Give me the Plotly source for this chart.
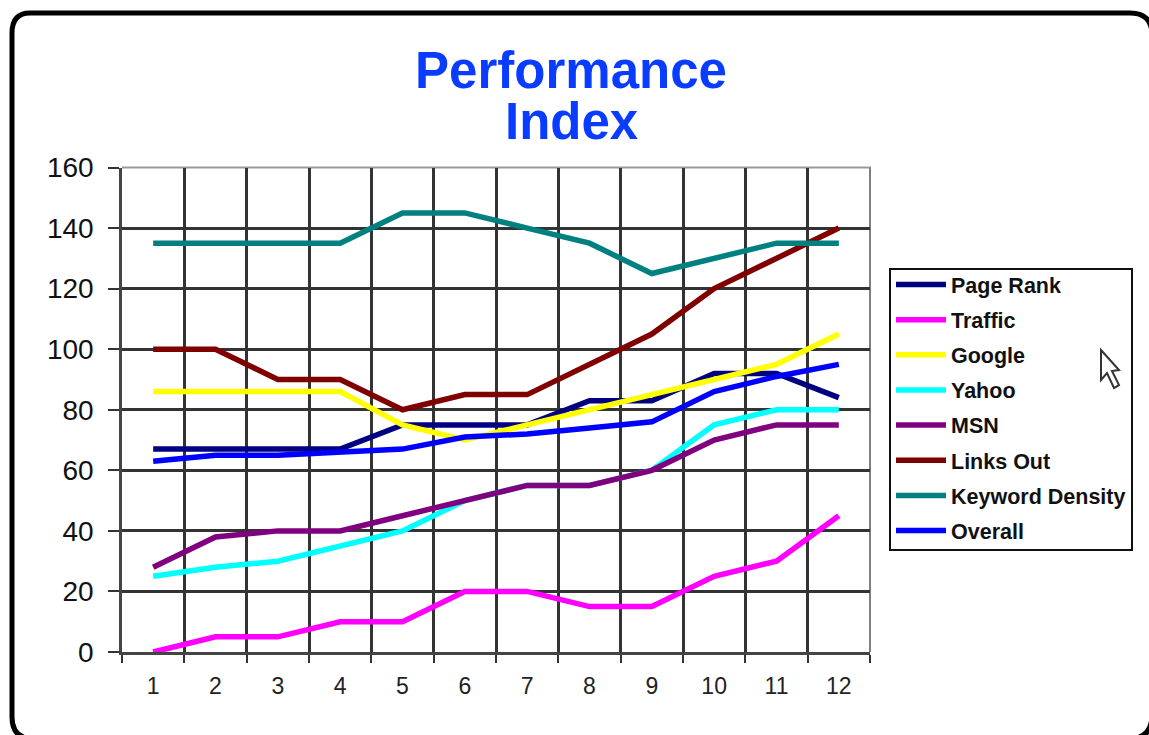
import plotly.graph_objects as go

months = ["1", "2", "3", "4", "5", "6", "7", "8", "9", "10", "11", "12"]
page_rank = [67, 67, 67, 67, 75, 75, 75, 83, 83, 92, 92, 84]
traffic = [0, 5, 5, 10, 10, 20, 20, 15, 15, 25, 30, 45]
google = [86, 86, 86, 86, 75, 70, 75, 80, 85, 90, 95, 105]
yahoo = [25, 28, 30, 35, 40, 50, 55, 55, 60, 75, 80, 80]
msn = [28, 38, 40, 40, 45, 50, 55, 55, 60, 70, 75, 75]
links_out = [100, 100, 90, 90, 80, 85, 85, 95, 105, 120, 130, 140]
keyword_density = [135, 135, 135, 135, 145, 145, 140, 135, 125, 130, 135, 135]
overall = [63, 65, 65, 66, 67, 71, 72, 74, 76, 86, 91, 95]

series = [
    ("Page Rank", page_rank, "#000080"),
    ("Traffic", traffic, "#ff00ff"),
    ("Google", google, "#ffff00"),
    ("Yahoo", yahoo, "#00ffff"),
    ("MSN", msn, "#800080"),
    ("Links Out", links_out, "#800000"),
    ("Keyword Density", keyword_density, "#008080"),
    ("Overall", overall, "#0000ff"),
]

W, H = 1149, 735
def px(x): return x / W
def py(y): return 1 - y / H

fig = go.Figure()
for name, vals, col in series:
    fig.add_trace(go.Scatter(x=months, y=vals, name=name, mode="lines", legendgroup=name,
                             line=dict(color=col, width=5.5), hoverinfo="name+y"))

frame = (f"M {px(30)} {py(13)} L {px(1130)} {py(13)} Q {px(1152)} {py(13)} {px(1152)} {py(35)} "
         f"L {px(1152)} {py(715)} Q {px(1152)} {py(739)} {px(1128)} {py(739)} "
         f"L {px(34)} {py(739)} Q {px(12)} {py(739)} {px(12)} {py(717)} "
         f"L {px(12)} {py(33)} Q {px(12)} {py(13)} {px(30)} {py(13)} Z")
cursor_pts = [(1101, 350), (1119, 370), (1112, 371), (1119, 385), (1114, 388), (1107, 373), (1101, 380)]
cursor = "M " + " L ".join(f"{px(a)} {py(b)}" for a, b in cursor_pts) + " Z"

fig.update_layout(
    width=W, height=H, margin=dict(l=0, r=0, t=0, b=0),
    paper_bgcolor="white", plot_bgcolor="white",
    font=dict(family="Liberation Sans", color="#111111"),
    title=dict(text="<b>Performance</b>", x=571 / W, xanchor="center", y=py(70), yanchor="middle",
               font=dict(size=51, color="#0a3cff", family="Liberation Sans")),
    annotations=[dict(text="<b>Index</b>", x=px(571), y=py(121), xref="paper", yref="paper",
                      xanchor="center", yanchor="middle", showarrow=False,
                      font=dict(size=51, color="#0a3cff", family="Liberation Sans"))],
    xaxis=dict(type="category", domain=[px(122), px(870)], range=[-0.5, 11.5], tickson="boundaries",
               automargin=False, ticks="outside", ticklen=8, tickwidth=2, tickcolor="#333333",
               showgrid=True, gridcolor="#333333", gridwidth=2.5,
               showline=True, linecolor="#444444", linewidth=2.5, ticklabelstandoff=12,
               tickfont=dict(size=23, color="#222222"), anchor="y"),
    yaxis=dict(domain=[py(652), py(167.5)], range=[0, 160], dtick=20, ticks="outside", ticklen=11,
               automargin=False, tickwidth=2, tickcolor="#333333", showgrid=True, gridcolor="#333333",
               gridwidth=2.5, zeroline=False, showline=True, linecolor="#444444",
               linewidth=2.5, ticklabelstandoff=9, tickfont=dict(size=28, color="#111111"), anchor="x"),
    legend=dict(x=px(891), y=py(264), xanchor="left", yanchor="top", bgcolor="rgba(0,0,0,0)",
                borderwidth=0, traceorder="grouped", tracegroupgap=4.2,
                font=dict(size=21.5, color="#111111", family="Liberation Sans", weight="bold"),
                itemwidth=50),
    shapes=[
        dict(type="path", path=frame, xref="paper", yref="paper", line=dict(color="black", width=5),
             fillcolor="rgba(0,0,0,0)", layer="below"),
        dict(type="line", x0=px(122), x1=px(871), y0=py(167.5), y1=py(167.5), xref="paper", yref="paper",
             line=dict(color="#999999", width=2), layer="below"),
        dict(type="line", x0=px(870), x1=px(870), y0=py(167.5), y1=py(652), xref="paper", yref="paper",
             line=dict(color="#808080", width=2), layer="below"),
        dict(type="rect", x0=px(890), x1=px(1132), y0=py(269), y1=py(550), xref="paper", yref="paper",
             line=dict(color="#111111", width=2), fillcolor="rgba(0,0,0,0)", layer="below"),
        dict(type="path", path=cursor, xref="paper", yref="paper", line=dict(color="#333333", width=2),
             fillcolor="white", layer="above"),
    ],
)
fig.write_html("out.html", config=dict(displayModeBar=False),
               post_script="document.body.style.margin='0';")
